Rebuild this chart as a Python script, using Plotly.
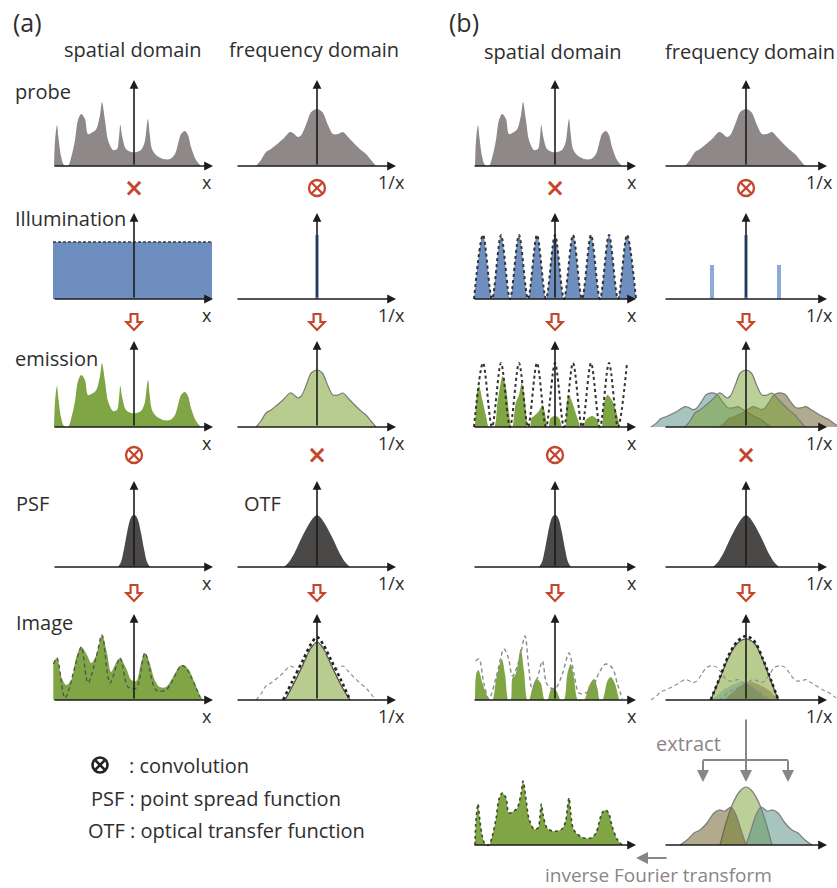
import plotly.graph_objects as go

W, H = 837, 888
FONT = "Open Sans"

# ---------------- data ----------------
# x = offset from the panel's vertical axis, y = height above the baseline (panel units)
probe_x = [-80, -79, -77, -75.5, -73, -70, -66, -62.7, -59, -56, -52.7, -49, -46, -41, -37.7, -34, -32, -29, -26,
           -21, -17, -15, -13.7, -11.7, -8, -2.7, 2.3, 7, 10.7, 12.3, 14, 15.7, 18, 22, 29, 36, 41, 44, 47, 51, 54,
           57, 62, 67]
probe_y = [0, 25, 41, 28, 10, 1, 0, 9, 26, 46, 52, 47, 32, 34, 37, 51, 64, 46, 26,
           16, 17, 29, 41, 29, 17, 14, 14, 16, 24, 36, 47, 32, 17, 11, 7, 7, 12, 22, 32, 35, 31,
           19, 6, 0]

spec_x = [-61, -56, -51, -46, -41, -34, -27, -24, -19, -15.7, -10.7, -5.7, 0, 5.3, 11, 16, 21, 26, 31, 37.7, 44,
          49, 54, 59]
spec_y = [0, 6, 14, 17, 21, 27, 34, 33, 29, 31, 42, 54, 57, 54, 41, 32, 32, 34, 29, 22, 16, 12, 6, 0]

flat_x = [-81, 78]
flat_y = [57, 57]
delta_x = [0]
delta_y = [64]

stripe_x = [-81, -72, -63, -54, -45, -36, -27, -18, -9, 0, 9, 18, 27, 36, 45, 54, 63, 72, 81]
stripe_y = [0, 64, 0, 64, 0, 64, 0, 64, 0, 64, 0, 64, 0, 64, 0, 64, 0, 64, 0]
stripe_f_x = [-34, 0, 33]
stripe_f_y = [34, 64, 34]

emB_x = [-80, -78, -76, -72.6, -69, -66, -61, -57.6, -54.3, -52.6, -49.3, -46, -43.6,
         -42.6, -39.3, -36, -33.3, -31, -28.6, -27, -25, -23.6, -21, -16, -12.6, -10, -7.6,
         -6.6, -4.3, 0, 4, 7.4, 10, 11.7, 14, 17.4, 22.4, 25.7, 28, 30.7, 37.4, 42.4, 44.7,
         46.7, 49, 52.4, 57.4, 62.4, 64.7]
emB_y = [0, 34, 41, 27, 11, 0, 0, 24, 44, 51, 41, 14, 0,
         0, 24, 32, 44, 34, 11, 0, 0, 9, 11, 16, 22, 14, 0,
         0, 9, 11, 9, 0, 0, 24, 32, 24, 9, 0, 0, 7, 11, 7, 0,
         0, 24, 32, 26, 11, 0]
side_shift = 34
side_scale = 0.6

psf_x = [-16, -13, -10, -7, -4, -2, 0, 2, 4, 7, 10, 13, 16]
psf_y = [0, 5, 18, 34, 47, 51, 52, 51, 47, 34, 18, 5, 0]
otf_x = [-33, -28, -22, -15, -8, -3, 0, 3, 8, 15, 22, 28, 33]
otf_y = [0, 5, 15, 30, 43, 50, 52, 50, 43, 30, 15, 5, 0]

imgA_x = [-80.7, -77, -72.7, -67.7, -62.7, -57.7, -52.7, -47, -42.7, -37.7, -32, -27, -23, -18, -14, -8, -2.7,
          2.3, 7, 11, 15.7, 20.7, 25.7, 32, 39, 45.7, 49.7, 55, 60.7, 67, 69.7]
imgA_y = [37, 42, 23, 15, 20, 43, 53, 45, 37, 45, 65, 47, 28, 37, 42, 32, 20,
          19, 37, 47, 37, 20, 13, 13, 23, 34, 35, 30, 17, 3, 0]
imgA_d_x = [-80.5, -77, -69, -58, -52.7, -46, -38, -32, -24, -14, -6, 2.3, 11, 22, 32, 47, 51, 66]
imgA_d_y = [36, 42, 2, 37, 53, 17, 42, 65, 17, 42, 13, 12, 47, 10, 10, 34, 33, 3]

imgAF_x = [-32, -25, -18, -12, -6, 0, 6, 12, 18, 25, 33]
imgAF_y = [0, 13, 27, 40, 52, 58, 52, 40, 27, 13, 0]
imgAF_e_x = [-34, -24, -14, -6, 0, 6, 14, 24, 33]
imgAF_e_y = [0, 20, 40, 56, 63, 56, 40, 20, 0]

imgB_x = [-80, -78.6, -76.6, -72.6, -68.6, -65.3, -62.6, -58.6, -53.3, -50, -46.6,
          -44.3, -42.6, -39.3, -34.3, -31, -27.6, -26, -22.6, -18.6, -14.3, -10.3,
          -7.6, -3.3, 1.4, 5.7, 9, 12.4, 15.7, 19, 23, 29, 34, 39, 42.4, 44.7,
          47.4, 52.4, 55.7, 59.7, 64]
imgB_y = [0, 27, 30, 17, 6, 0, 0, 22, 41, 26, 0,
          0, 22, 26, 51, 29, 0, 0, 12, 21, 17, 0,
          0, 12, 9, 0, 0, 26, 36, 22, 0, 0, 14, 21, 12, 0,
          0, 19, 23, 17, 0]
imgB_d_x = [-79.3, -76, -71, -66, -59, -51, -46.6, -42.6, -36, -30, -26.6, -23, -17.6, -12.6, -8.6, -4.3, 0.7,
            7.4, 14, 19, 24, 30.7, 37.4, 44, 50.7, 57.4, 62.4, 67.4]
imgB_d_y = [39, 41, 16, 1, 22, 51, 42, 24, 39, 64, 36, 12, 22, 39, 17, 12, 12,
            26, 47, 26, 7, 7, 12, 27, 36, 32, 16, 1]

imgBF_x = [-35.3, -26, -17.7, -9.3, 0, 9, 17.3, 25.7, 32.3]
imgBF_y = [0, 22, 42, 56, 61, 56, 39, 17, 0]
imgBF_e_x = [-35.3, -26, -17.7, -9.3, -3, 0, 3, 9, 17.3, 25.7, 32.3]
imgBF_e_y = [0, 23, 44, 58, 63, 64, 63, 58, 40, 18, 0]
humpL_x = [-34, -24, -14, -4, 4, 14, 22]
humpL_y = [0, 9, 15, 18, 15, 7, 0]
humpR_x = [-22, -14, -4, 4, 14, 24, 32]
humpR_y = [0, 7, 15, 18, 15, 9, 0]

extC_x = [-26, -20, -13, -6, 0, 6, 13, 20, 26]
extC_y = [0, 22, 42, 54, 58, 54, 42, 22, 0]
extL_x = [-66, -59, -52, -46, -39, -32, -27, -21, -15, -10, -5, 0]
extL_y = [0, 5, 12, 15, 22, 32, 35, 34, 38, 30, 15, 0]
extR_x = [0, 5, 10, 15, 21, 27, 32, 39, 46, 52, 59, 66]
extR_y = [0, 15, 30, 38, 34, 35, 32, 22, 15, 12, 5, 0]

# ---------------- layout / style ----------------
COL_X = dict(aS=134, aF=317, bS=555, bF=746)
ROW_BASE = [166, 299, 427, 567, 700]
BOTTOM_BASE = 845
AX_EXT = dict(aS=(-81, 79), aF=(-81, 79), bS=(-82, 81), bF=(-82, 81))
AX_H = 86
LABEL_DX = dict(aS=73, aF=74, bS=77, bF=73)
LABEL_TXT = dict(aS='x', aF='1/x', bS='x', bF='1/x')

GRAYF = '#8e8888'
BLUE = '#6d8ebe'
BLUE_L = '#8eaad8'
GREEN = '#7fa545'
GREEN_L = '#b9cc8f'
DARK = '#4b4848'
RED = '#c4462c'
AXC = '#1c1c1c'
TXT = '#2e2e2e'
GTXT = '#8a8585'
OUT = '#7b7b7b'
C_CEN = 'rgba(120,160,50,0.5)'
C_L = 'rgba(80,140,125,0.5)'
C_R = 'rgba(100,85,30,0.5)'

fig = go.Figure()
layout = dict(width=W, height=H, margin=dict(l=0, r=0, t=0, b=0), paper_bgcolor='white',
              plot_bgcolor='rgba(0,0,0,0)', showlegend=False)
ann = []
shapes = []
panels = {}


def px(x):
    return x / W


def py(y):
    return 1 - y / H


def add_panel(key, cx, base, halfw=112, up=100, down=8):
    idx = len(panels) + 1
    xlo, xhi = max(0, cx - halfw), min(W, cx + halfw)
    sfx = '' if idx == 1 else str(idx)
    layout['xaxis' + sfx] = dict(domain=[xlo / W, xhi / W], range=[xlo - cx, xhi - cx], visible=False,
                                 fixedrange=True, anchor='y' + sfx)
    layout['yaxis' + sfx] = dict(domain=[1 - (base + down) / H, 1 - (base - up) / H], range=[-down, up],
                                 visible=False, fixedrange=True, anchor='x' + sfx)
    panels[key] = ('x' + sfx, 'y' + sfx, cx, base)


def area(key, xs, ys, color, lw=0, lcolor=None, dash=None, fill='tozeroy', shape='spline'):
    xa, ya, _, _ = panels[key]
    fig.add_trace(go.Scatter(x=xs, y=ys, xaxis=xa, yaxis=ya, mode='lines', fill=fill if color else None,
                             fillcolor=color, hoverinfo='skip',
                             line=dict(width=lw, color=lcolor or 'rgba(0,0,0,0)', dash=dash, shape=shape,
                                       smoothing=0.9)))


def bars(key, xs, ys, color, width=4):
    xa, ya, _, _ = panels[key]
    fig.add_trace(go.Bar(x=xs, y=ys, xaxis=xa, yaxis=ya, width=width, marker=dict(color=color, line_width=0),
                         hoverinfo='skip'))


def axis_arrow(key, x0, y0, x1, y1, color=AXC, w=1.6, size=1.1):
    xa, ya, _, _ = panels[key]
    ann.append(dict(x=x1, y=y1, ax=x0, ay=y0, xref=xa, yref=ya, axref=xa, ayref=ya, text='', showarrow=True,
                    arrowhead=2, arrowsize=size, arrowwidth=w, arrowcolor=color, standoff=0))


def text(x, y, s, size, color=TXT, anchor='left', family=FONT):
    ann.append(dict(x=px(x), y=py(y), xref='paper', yref='paper', text=s, showarrow=False,
                    xanchor=anchor, yanchor='middle', font=dict(size=size, color=color, family=family)))


def parrow(x0, y0, x1, y1, color=GTXT, w=2, size=1.2):
    ann.append(dict(x=px(x1), y=py(y1), xref='paper', yref='paper', ax=x0 - x1, ay=y0 - y1,
                    axref='pixel', ayref='pixel', text='', showarrow=True, arrowhead=2, arrowsize=size,
                    arrowwidth=w, arrowcolor=color, standoff=0))


def otimes(cx, cy, color, r=8, w=2.3):
    shapes.append(dict(type='circle', xref='paper', yref='paper', x0=px(cx - r), x1=px(cx + r),
                       y0=py(cy + r), y1=py(cy - r), line=dict(color=color, width=w), fillcolor='white'))
    d = r * 0.62
    for sgn in (1, -1):
        shapes.append(dict(type='line', xref='paper', yref='paper', x0=px(cx - d), x1=px(cx + d),
                           y0=py(cy - sgn * d), y1=py(cy + sgn * d), line=dict(color=color, width=w)))


def down_arrow(cx, cy, color=RED, w=2.2):
    pts = [(-3.4, -8), (3.4, -8), (3.4, 0), (7.6, 0), (0, 8), (-7.6, 0), (-3.4, 0)]
    path = 'M ' + ' L '.join(f'{px(cx + a):.5f},{py(cy + b):.5f}' for a, b in pts) + ' Z'
    shapes.append(dict(type='path', xref='paper', yref='paper', path=path, fillcolor='white',
                       line=dict(color=color, width=w)))


def shifted(xs, ys, d, s):
    return [x + d for x in xs], [y * s for y in ys]


for r, base in enumerate(ROW_BASE):
    for c, cx in COL_X.items():
        add_panel(f'{c}{r}', cx, base)
add_panel('bS5', COL_X['bS'], BOTTOM_BASE)
add_panel('bF5', COL_X['bF'], BOTTOM_BASE)

# row 0: probe
for c in ('aS', 'bS'):
    area(f'{c}0', probe_x, probe_y, GRAYF)
for c in ('aF', 'bF'):
    area(f'{c}0', spec_x, spec_y, GRAYF)

# row 1: illumination
area('aS1', flat_x, flat_y, BLUE, lw=1.3, lcolor='#3a3a3a', dash='3px,2px', shape='linear')
bars('aF1', delta_x, delta_y, BLUE_L)
area('bS1', stripe_x, stripe_y, BLUE, lw=2, lcolor='#333333', dash='dot')
bars('bF1', stripe_f_x, stripe_f_y, BLUE_L)

# row 2: emission
area('aS2', probe_x, probe_y, GREEN)
area('aF2', spec_x, spec_y, GREEN_L, lw=1.2, lcolor=OUT)
area('bS2', emB_x, emB_y, GREEN)
sx = [x for x in stripe_x if x <= 72]
area('bS2', sx, stripe_y[:len(sx)], None, lw=2, lcolor='#333333', dash='dot')
lx, ly = shifted(spec_x, spec_y, -side_shift, side_scale)
rx, ry = shifted(spec_x, spec_y, side_shift, side_scale)
area('bF2', lx, ly, C_L, lw=1.2, lcolor=OUT)
area('bF2', rx, ry, C_R, lw=1.2, lcolor=OUT)
area('bF2', spec_x, spec_y, C_CEN, lw=1.2, lcolor=OUT)

# row 3: PSF / OTF
for c in ('aS', 'bS'):
    area(f'{c}3', psf_x, psf_y, DARK)
for c in ('aF', 'bF'):
    area(f'{c}3', otf_x, otf_y, DARK)

# row 4: image
area('aS4', imgA_x, imgA_y, GREEN)
area('aS4', imgA_d_x, imgA_d_y, None, lw=1.4, lcolor='#555555', dash='4px,3px')
area('aF4', imgAF_x, imgAF_y, GREEN_L, lw=1.2, lcolor='#444444')
area('aF4', spec_x, spec_y, None, lw=1.1, lcolor='#8a8a8a', dash='4px,3px')
area('aF4', imgAF_e_x, imgAF_e_y, None, lw=2.6, lcolor='#222222', dash='dot')
area('bS4', imgB_x, imgB_y, GREEN)
area('bS4', imgB_d_x, imgB_d_y, None, lw=1.4, lcolor='#8a8a8a', dash='4px,3px')
area('bF4', imgBF_x, imgBF_y, GREEN_L, lw=1.2, lcolor='#444444')
area('bF4', humpL_x, humpL_y, 'rgba(80,140,125,0.35)')
area('bF4', humpR_x, humpR_y, 'rgba(100,85,30,0.35)')
area('bF4', lx, ly, None, lw=1.1, lcolor='#8a8a8a', dash='4px,3px')
area('bF4', rx, ry, None, lw=1.1, lcolor='#8a8a8a', dash='4px,3px')
area('bF4', imgBF_e_x, imgBF_e_y, None, lw=2.6, lcolor='#222222', dash='dot')

# row 5 (b only): reconstruction
area('bS5', probe_x, probe_y, GREEN, lw=1.6, lcolor='#3d4a2a', dash='dot')
area('bF5', extC_x, extC_y, C_CEN, lw=1.2, lcolor=OUT)
area('bF5', extL_x, extL_y, C_R, lw=1.2, lcolor=OUT)
area('bF5', extR_x, extR_y, C_L, lw=1.2, lcolor=OUT)

# axes (arrows)
for key, (xa, ya, cx, base) in panels.items():
    c = key[:2]
    lo, hi = AX_EXT[c]
    axis_arrow(key, lo, 0, hi, 0)
    if key[2] != '5':
        axis_arrow(key, 0, 0, 0, AX_H)
        text(cx + LABEL_DX[c], base + 16, LABEL_TXT[c], 18, anchor='center')

# operators between rows
SYM_Y = [188, 322, 455, 593]
SYMS = [dict(aS='×', aF='⊗', bS='×', bF='⊗'),
        dict(aS='⇩', aF='⇩', bS='⇩', bF='⇩'),
        dict(aS='⊗', aF='×', bS='⊗', bF='×'),
        dict(aS='⇩', aF='⇩', bS='⇩', bF='⇩')]
for sy, row in zip(SYM_Y, SYMS):
    for c, s in row.items():
        if s == '×':
            text(COL_X[c], sy, '<b>×</b>', 24, color=RED, anchor='center', family='DejaVu Sans')
        elif s == '⊗':
            otimes(COL_X[c], sy, RED)
        else:
            down_arrow(COL_X[c], sy)

# headings and labels
text(11, 22, '(a)', 25, anchor='left')
text(447, 22, '(b)', 25, anchor='left')
text(133, 50, 'spatial domain', 20, anchor='center')
text(314, 50, 'frequency domain', 20, anchor='center')
text(553, 51, 'spatial domain', 20, anchor='center')
text(750, 51, 'frequency domain', 20, anchor='center')
text(13, 91, 'probe', 20)
text(13, 218, 'Illumination', 20)
text(13, 358, 'emission', 20)
text(14, 503, 'PSF', 20)
text(242, 503, 'OTF', 20)
text(14, 622, 'Image', 20)

otimes(100, 765, '#222222', r=7.5, w=2.6)
text(127, 765, ': convolution', 20)
text(89, 798, 'PSF : point spread function', 20)
text(86, 830, 'OTF : optical transfer function', 20)

# extract / inverse Fourier transform
text(688, 743, 'extract', 20, color=GTXT, anchor='center')
text(658, 875, 'inverse Fourier transform', 19, color=GTXT, anchor='center')
parrow(746, 718, 746, 782)
shapes.append(dict(type='line', xref='paper', yref='paper', x0=px(703), x1=px(788), y0=py(760),
                   y1=py(760), line=dict(color=GTXT, width=2)))
parrow(703, 759, 703, 782)
parrow(788, 759, 788, 782)
parrow(668, 858, 636, 858)

layout['annotations'] = ann
layout['shapes'] = shapes
fig.update_layout(**layout)
fig.write_html("out.html", config=dict(displayModeBar=False),
               post_script="document.body.style.margin='0px';document.body.style.overflow='hidden';")
